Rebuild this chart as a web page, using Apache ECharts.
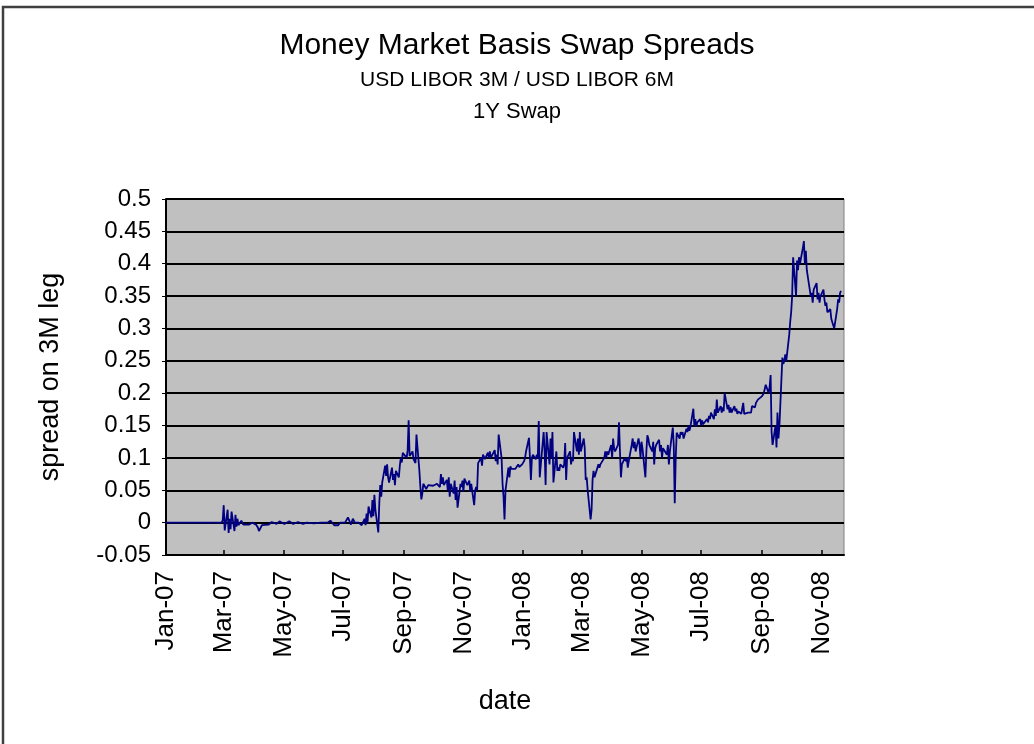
<!DOCTYPE html>
<html>
<head>
<meta charset="utf-8">
<title>Money Market Basis Swap Spreads</title>
<script src="https://cdn.jsdelivr.net/npm/echarts@6/dist/echarts.min.js"></script>
<style>
  html, body { margin: 0; padding: 0; background: #fff; }
  #chart { width: 1034px; height: 744px; }
</style>
</head>
<body>
<div id="chart"></div>
<script>
// x axis ticks, every two months
var tickDates = ['2007-01-01', '2007-03-01', '2007-05-01', '2007-07-01', '2007-09-01', '2007-11-01',
  '2008-01-01', '2008-03-01', '2008-05-01', '2008-07-01', '2008-09-01', '2008-11-01'];
var tickLabels = ['Jan-07', 'Mar-07', 'May-07', 'Jul-07', 'Sep-07', 'Nov-07',
  'Jan-08', 'Mar-08', 'May-08', 'Jul-08', 'Sep-08', 'Nov-08'];

// spread on 3M leg
var dates = [
  '2007-01-01', '2007-02-27', '2007-02-28', '2007-03-01', '2007-03-02', '2007-03-05', '2007-03-06', '2007-03-07',
  '2007-03-08', '2007-03-09', '2007-03-12', '2007-03-13', '2007-03-14', '2007-03-15', '2007-03-16', '2007-03-19',
  '2007-03-21', '2007-03-23', '2007-03-27', '2007-03-30', '2007-04-03', '2007-04-05', '2007-04-06', '2007-04-09',
  '2007-04-11', '2007-04-16', '2007-04-19', '2007-04-24', '2007-04-27', '2007-05-02', '2007-05-07', '2007-05-11',
  '2007-05-16', '2007-05-21', '2007-05-25', '2007-06-01', '2007-06-08', '2007-06-15', '2007-06-18', '2007-06-20',
  '2007-06-22', '2007-06-26', '2007-06-28', '2007-07-03', '2007-07-06', '2007-07-09', '2007-07-11', '2007-07-13',
  '2007-07-17', '2007-07-19', '2007-07-20', '2007-07-23', '2007-07-24', '2007-07-25', '2007-07-26', '2007-07-27',
  '2007-07-30', '2007-07-31', '2007-08-01', '2007-08-02', '2007-08-03', '2007-08-06', '2007-08-07', '2007-08-08',
  '2007-08-09', '2007-08-10', '2007-08-13', '2007-08-14', '2007-08-15', '2007-08-16', '2007-08-17', '2007-08-20',
  '2007-08-21', '2007-08-22', '2007-08-23', '2007-08-24', '2007-08-27', '2007-08-28', '2007-08-29', '2007-08-30',
  '2007-08-31', '2007-09-04', '2007-09-05', '2007-09-06', '2007-09-07', '2007-09-10', '2007-09-11', '2007-09-12',
  '2007-09-13', '2007-09-14', '2007-09-17', '2007-09-18', '2007-09-19', '2007-09-20', '2007-09-21', '2007-09-24',
  '2007-09-26', '2007-09-28', '2007-10-01', '2007-10-03', '2007-10-05', '2007-10-08', '2007-10-09', '2007-10-10',
  '2007-10-11', '2007-10-12', '2007-10-15', '2007-10-16', '2007-10-17', '2007-10-18', '2007-10-19', '2007-10-22',
  '2007-10-23', '2007-10-24', '2007-10-25', '2007-10-26', '2007-10-29', '2007-10-30', '2007-10-31', '2007-11-01',
  '2007-11-02', '2007-11-05', '2007-11-07', '2007-11-08', '2007-11-09', '2007-11-12', '2007-11-13', '2007-11-14',
  '2007-11-15', '2007-11-16', '2007-11-19', '2007-11-20', '2007-11-21', '2007-11-23', '2007-11-26', '2007-11-27',
  '2007-11-28', '2007-11-29', '2007-12-03', '2007-12-04', '2007-12-05', '2007-12-06', '2007-12-07', '2007-12-10',
  '2007-12-11', '2007-12-12', '2007-12-13', '2007-12-14', '2007-12-17', '2007-12-18', '2007-12-19', '2007-12-20',
  '2007-12-21', '2007-12-24', '2007-12-27', '2007-12-28', '2007-12-31',
  '2008-01-02', '2008-01-03', '2008-01-04', '2008-01-07', '2008-01-08', '2008-01-09', '2008-01-10', '2008-01-11',
  '2008-01-14', '2008-01-15', '2008-01-16', '2008-01-17', '2008-01-18', '2008-01-22', '2008-01-23', '2008-01-24',
  '2008-01-25', '2008-01-28', '2008-01-29', '2008-01-30', '2008-01-31', '2008-02-01', '2008-02-04', '2008-02-05',
  '2008-02-06', '2008-02-07', '2008-02-08', '2008-02-11', '2008-02-12', '2008-02-13', '2008-02-14', '2008-02-15',
  '2008-02-18', '2008-02-19', '2008-02-20', '2008-02-21', '2008-02-22', '2008-02-25', '2008-02-26', '2008-02-27',
  '2008-02-28', '2008-02-29', '2008-03-03', '2008-03-04', '2008-03-05', '2008-03-06', '2008-03-07', '2008-03-10',
  '2008-03-11', '2008-03-12', '2008-03-13', '2008-03-14', '2008-03-17', '2008-03-18', '2008-03-19', '2008-03-20',
  '2008-03-24', '2008-03-25', '2008-03-26', '2008-03-27', '2008-03-28', '2008-03-31', '2008-04-01', '2008-04-02',
  '2008-04-03', '2008-04-04', '2008-04-07', '2008-04-08', '2008-04-09', '2008-04-10', '2008-04-11', '2008-04-14',
  '2008-04-15', '2008-04-16', '2008-04-17', '2008-04-18', '2008-04-21', '2008-04-22', '2008-04-23', '2008-04-24',
  '2008-04-25', '2008-04-28', '2008-04-29', '2008-04-30', '2008-05-01', '2008-05-02', '2008-05-05', '2008-05-06',
  '2008-05-07', '2008-05-08', '2008-05-09', '2008-05-12', '2008-05-13', '2008-05-14', '2008-05-15', '2008-05-16',
  '2008-05-19', '2008-05-20', '2008-05-21', '2008-05-22', '2008-05-23', '2008-05-27', '2008-05-28', '2008-05-29',
  '2008-05-30', '2008-06-02', '2008-06-03', '2008-06-04', '2008-06-05', '2008-06-06', '2008-06-09', '2008-06-10',
  '2008-06-11', '2008-06-12', '2008-06-13', '2008-06-16', '2008-06-17', '2008-06-18', '2008-06-19', '2008-06-20',
  '2008-06-23', '2008-06-24', '2008-06-25', '2008-06-26', '2008-06-27', '2008-06-30', '2008-07-01', '2008-07-02',
  '2008-07-03', '2008-07-07', '2008-07-08', '2008-07-09', '2008-07-10', '2008-07-11', '2008-07-14', '2008-07-15',
  '2008-07-16', '2008-07-17', '2008-07-18', '2008-07-21', '2008-07-22', '2008-07-23', '2008-07-24', '2008-07-25',
  '2008-07-28', '2008-07-29', '2008-07-30', '2008-07-31', '2008-08-01', '2008-08-04', '2008-08-05', '2008-08-06',
  '2008-08-07', '2008-08-08', '2008-08-11', '2008-08-12', '2008-08-13', '2008-08-14', '2008-08-15', '2008-08-18',
  '2008-08-19', '2008-08-20', '2008-08-21', '2008-08-22', '2008-08-25', '2008-08-26', '2008-08-27', '2008-08-28',
  '2008-08-29', '2008-09-01', '2008-09-02', '2008-09-03', '2008-09-04', '2008-09-05', '2008-09-08', '2008-09-09',
  '2008-09-10', '2008-09-11', '2008-09-12', '2008-09-15', '2008-09-16', '2008-09-17', '2008-09-18', '2008-09-19',
  '2008-09-22', '2008-09-23', '2008-09-24', '2008-09-25', '2008-09-26', '2008-09-29', '2008-09-30', '2008-10-01',
  '2008-10-02', '2008-10-03', '2008-10-06', '2008-10-07', '2008-10-08', '2008-10-09', '2008-10-10', '2008-10-13',
  '2008-10-14', '2008-10-15', '2008-10-16', '2008-10-17', '2008-10-20', '2008-10-21', '2008-10-22', '2008-10-23',
  '2008-10-24', '2008-10-27', '2008-10-28', '2008-10-29', '2008-10-30', '2008-10-31', '2008-11-03', '2008-11-04',
  '2008-11-05', '2008-11-06', '2008-11-07', '2008-11-10', '2008-11-11', '2008-11-12', '2008-11-13', '2008-11-14',
  '2008-11-17', '2008-11-18', '2008-11-19', '2008-11-20', '2008-11-21'
];
var spread = [
  0, 0, 0.004, 0.027, -0.012, 0.02, -0.016, 0.006,
  -0.01, 0.017, -0.013, 0.012, -0.006, 0.006, -0.004, 0.003,
  -0.003, 0, -0.003, 0, -0.003, -0.008, -0.013, -0.004,
  -0.001, -0.003, 0.001, -0.002, 0.002, -0.002, 0.002, -0.002,
  0.001, -0.002, 0, -0.001, 0, 0, 0.003, 0.003,
  -0.004, -0.004, 0, 0, 0.008, -0.003, 0.006, 0,
  0, 0.002, -0.004, 0.006, -0.004, 0.014, 0, 0.025,
  0.008, 0.035, 0.01, 0.043, 0.02, -0.015, 0.03, 0.058,
  0.04, 0.062, 0.088, 0.072, 0.09, 0.07, 0.062, 0.085,
  0.066, 0.075, 0.058, 0.08, 0.07, 0.088, 0.1, 0.093,
  0.108, 0.1, 0.112, 0.158, 0.103, 0.11, 0.098, 0.1,
  0.092, 0.136, 0.08, 0.055, 0.036, 0.045, 0.06, 0.052,
  0.058, 0.055, 0.057, 0.055, 0.06, 0.055, 0.075, 0.06,
  0.07, 0.058, 0.066, 0.05, 0.07, 0.04, 0.06, 0.045,
  0.065, 0.035, 0.055, 0.023, 0.06, 0.055, 0.065, 0.048,
  0.068, 0.058, 0.065, 0.048, 0.06, 0.027, 0.05, 0.055,
  0.05, 0.092, 0.1, 0.088, 0.105, 0.098, 0.108, 0.1,
  0.11, 0.1, 0.112, 0.095, 0.105, 0.09, 0.136, 0.1,
  0.06, 0.04, 0.005, 0.05, 0.085, 0.07, 0.087, 0.083,
  0.085, 0.083, 0.09, 0.086, 0.09,
  0.095, 0.1, 0.11, 0.131, 0.1, 0.066, 0.1, 0.105,
  0.098, 0.105, 0.1, 0.157, 0.07, 0.14, 0.11, 0.058,
  0.14, 0.09, 0.13, 0.1, 0.14, 0.062, 0.11, 0.08,
  0.085, 0.08, 0.09, 0.085, 0.09, 0.123, 0.066, 0.1,
  0.11, 0.09, 0.1, 0.095, 0.14, 0.11, 0.13, 0.105,
  0.14, 0.11, 0.13, 0.115, 0.066, 0.07, 0.05, 0.005,
  0.02, 0.066, 0.08, 0.07, 0.085, 0.09, 0.085, 0.09,
  0.1, 0.11, 0.1, 0.11, 0.105, 0.12, 0.1, 0.13,
  0.115, 0.11, 0.12, 0.155, 0.11, 0.07, 0.09, 0.1,
  0.095, 0.1, 0.085, 0.095, 0.12, 0.13, 0.115, 0.125,
  0.11, 0.13, 0.12, 0.1, 0.125, 0.115, 0.07, 0.11,
  0.135, 0.13, 0.12, 0.11, 0.125, 0.09, 0.115, 0.12,
  0.128, 0.11, 0.12, 0.1, 0.115, 0.105, 0.12, 0.09,
  0.11, 0.147, 0.12, 0.03, 0.1, 0.139, 0.13, 0.14,
  0.136, 0.14, 0.13, 0.145, 0.14, 0.15, 0.142, 0.148,
  0.176, 0.15, 0.16, 0.148, 0.155, 0.16, 0.15, 0.158,
  0.152, 0.16, 0.155, 0.165, 0.16, 0.17, 0.16, 0.175,
  0.165, 0.19, 0.17, 0.18, 0.17, 0.178, 0.172, 0.2,
  0.175, 0.182, 0.17, 0.178, 0.17, 0.18, 0.172, 0.176,
  0.168, 0.172, 0.168, 0.17, 0.185, 0.168, 0.165, 0.17,
  0.168, 0.172, 0.17, 0.18, 0.178, 0.185, 0.183, 0.19,
  0.188, 0.195, 0.192, 0.2, 0.198, 0.213, 0.2, 0.21,
  0.228, 0.14, 0.12, 0.15, 0.116, 0.17, 0.13, 0.15,
  0.255, 0.245, 0.25, 0.26, 0.25, 0.29, 0.31, 0.325,
  0.35, 0.41, 0.35, 0.405, 0.39, 0.41, 0.4, 0.425,
  0.435, 0.4, 0.42, 0.39, 0.36, 0.35, 0.355, 0.34,
  0.36, 0.37, 0.345, 0.355, 0.34, 0.35, 0.36, 0.345,
  0.335, 0.34, 0.325, 0.33, 0.315, 0.31, 0.305, 0.3,
  0.33, 0.345, 0.34, 0.355, 0.358
];

var font = '"Liberation Sans", Arial, sans-serif';

// local-time timestamp of a 'yyyy-mm-dd' string
function toTime(s) {
  var p = s.split('-');
  return new Date(+p[0], +p[1] - 1, +p[2]).getTime();
}
var tickTimes = tickDates.map(toTime);

var chart = echarts.init(document.getElementById('chart'));
chart.setOption({
  backgroundColor: '#fff',
  animation: false,
  title: [
    { text: 'Money Market Basis Swap Spreads', left: 'center', top: 31, padding: 0,
      textStyle: { fontFamily: font, fontSize: 30, fontWeight: 'normal', color: '#000' } },
    { text: 'USD LIBOR 3M / USD LIBOR 6M', left: 'center', top: 70, padding: 0,
      textStyle: { fontFamily: font, fontSize: 21, fontWeight: 'normal', color: '#000' } },
    { text: '1Y Swap', left: 'center', top: 101, padding: 0,
      textStyle: { fontFamily: font, fontSize: 22, fontWeight: 'normal', color: '#000' } }
  ],
  // outer frame: only the top and left edges fall inside the picture
  graphic: [
    { type: 'polyline', silent: true,
      shape: { points: [[3, 744], [3, 7], [1034, 7]] },
      style: { fill: 'none', stroke: '#404040', lineWidth: 2.5 } }
  ],
  grid: {
    left: 166, right: 190, top: 199, bottom: 189,
    show: true, backgroundColor: '#c0c0c0', borderColor: '#808080', borderWidth: 1
  },
  xAxis: {
    type: 'value',
    min: toTime('2007-01-01'), max: toTime('2008-11-24'),
    name: 'date', nameLocation: 'middle', nameGap: 133,
    nameTextStyle: { fontFamily: font, fontSize: 27, color: '#000' },
    axisLine: { show: true, onZero: false, lineStyle: { color: '#000', width: 2 } },
    axisTick: { show: true, inside: true, length: 5, customValues: tickTimes,
      lineStyle: { color: '#000', width: 1.5 } },
    axisLabel: {
      customValues: tickTimes, rotate: 90, margin: 16,
      fontFamily: font, fontSize: 26, color: '#000',
      formatter: function (v) {
        var i = tickTimes.indexOf(v);
        return i >= 0 ? tickLabels[i] : '';
      }
    },
    splitLine: { show: false }
  },
  yAxis: {
    type: 'value',
    min: -0.05, max: 0.5, interval: 0.05,
    name: 'spread on 3M leg', nameLocation: 'middle', nameGap: 102, nameRotate: 90,
    nameTextStyle: { fontFamily: font, fontSize: 27, color: '#000' },
    axisLine: { show: true, lineStyle: { color: '#000', width: 2 } },
    axisTick: { show: true, inside: false, length: 4, lineStyle: { color: '#000' } },
    axisLabel: {
      margin: 15, fontFamily: font, fontSize: 24, color: '#000',
      formatter: function (v) { return String(Math.round(v * 100) / 100); }
    },
    splitLine: { show: true, lineStyle: { color: '#000', width: 2 } }
  },
  series: [{
    type: 'line',
    name: 'spread',
    data: dates.map(function (d, i) { return [toTime(d), spread[i]]; }),
    showSymbol: false,
    lineStyle: { color: '#000080', width: 1.8 },
    itemStyle: { color: '#000080' }
  }]
});
</script>
</body>
</html>
